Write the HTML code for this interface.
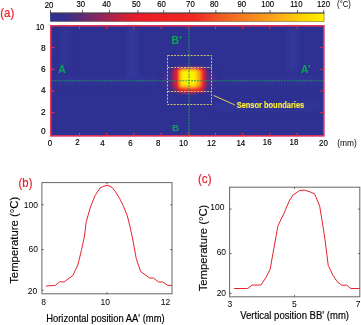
<!DOCTYPE html>
<html>
<head>
<meta charset="utf-8">
<title>Figure</title>
<style>
html,body{margin:0;padding:0;background:#fff;}
body{width:361px;height:325px;overflow:hidden;}
svg{display:block;}
text{font-family:"Liberation Sans",sans-serif;}
</style>
</head>
<body>
<svg width="361" height="325" viewBox="0 0 361 325">
<defs>
<linearGradient id="cb" x1="0" x2="1" y1="0" y2="0">
<stop offset="0" stop-color="#2e3192"/>
<stop offset="0.05" stop-color="#33308f"/>
<stop offset="0.31" stop-color="#e51d2a"/>
<stop offset="0.36" stop-color="#ed1c24"/>
<stop offset="0.53" stop-color="#ee2a24"/>
<stop offset="0.62" stop-color="#f15a22"/>
<stop offset="0.72" stop-color="#f58220"/>
<stop offset="0.83" stop-color="#fbaa19"/>
<stop offset="0.92" stop-color="#ffd400"/>
<stop offset="1" stop-color="#fff200"/>
</linearGradient>
<filter id="bl" x="-30%" y="-30%" width="160%" height="160%"><feGaussianBlur stdDeviation="1.6"/></filter>
<filter id="bl3" x="-10%" y="-10%" width="120%" height="120%"><feGaussianBlur stdDeviation="0.85"/></filter>
<filter id="bl4" x="-20%" y="-20%" width="140%" height="140%"><feGaussianBlur stdDeviation="2.5"/></filter>
<filter id="bl5" x="-30%" y="-30%" width="160%" height="160%"><feGaussianBlur stdDeviation="3"/></filter>
<filter id="bl2" x="-30%" y="-30%" width="160%" height="160%"><feGaussianBlur stdDeviation="1.2"/></filter>
</defs>

<text x="0.3" y="16.9" fill="#e8212b" stroke="#e8212b" stroke-width="0.2" font-size="12.4" textLength="14" lengthAdjust="spacingAndGlyphs">(a)</text>
<text x="18.6" y="186.7" fill="#e8212b" stroke="#e8212b" stroke-width="0.2" font-size="12.4" textLength="13.8" lengthAdjust="spacingAndGlyphs">(b)</text>
<text x="198" y="182.8" fill="#e8212b" stroke="#e8212b" stroke-width="0.2" font-size="12.4" textLength="13.5" lengthAdjust="spacingAndGlyphs">(c)</text>
<rect x="50.1" y="13.2" width="274.1" height="8.3" fill="url(#cb)"/>
<path d="M49.9 13H324.5" stroke="#1a1a1a" stroke-width="1" fill="none"/>
<path d="M324.1 13V21.5H50.1" stroke="#3a3a1a" stroke-width="0.6" stroke-opacity="0.7" fill="none"/>
<path d="M50.5 10V13M82.5 10V13M109.4 10V13M137.9 10V13M163.7 10V13M189.5 10V13M215.9 10V13M242.7 10V13M270.1 10V13M297.6 10V13M323.7 10V13" stroke="#333" stroke-width="0.8" fill="none"/>
<text transform="translate(49 7.9) scale(0.9 1)" font-size="8.6" text-anchor="middle" fill="#000" stroke="#000" stroke-width="0.15">20</text>
<text transform="translate(80.8 6.7) scale(0.9 1)" font-size="8.6" text-anchor="middle" fill="#000" stroke="#000" stroke-width="0.15">30</text>
<text transform="translate(106.5 7.0) scale(0.9 1)" font-size="8.6" text-anchor="middle" fill="#000" stroke="#000" stroke-width="0.15">40</text>
<text transform="translate(136.3 7.0) scale(0.9 1)" font-size="8.6" text-anchor="middle" fill="#000" stroke="#000" stroke-width="0.15">50</text>
<text transform="translate(161.6 7.0) scale(0.9 1)" font-size="8.6" text-anchor="middle" fill="#000" stroke="#000" stroke-width="0.15">60</text>
<text transform="translate(190.4 7.0) scale(0.9 1)" font-size="8.6" text-anchor="middle" fill="#000" stroke="#000" stroke-width="0.15">70</text>
<text transform="translate(214.2 7.0) scale(0.9 1)" font-size="8.6" text-anchor="middle" fill="#000" stroke="#000" stroke-width="0.15">80</text>
<text transform="translate(241.8 7.0) scale(0.9 1)" font-size="8.6" text-anchor="middle" fill="#000" stroke="#000" stroke-width="0.15">90</text>
<text transform="translate(267.7 7.0) scale(0.9 1)" font-size="8.6" text-anchor="middle" fill="#000" stroke="#000" stroke-width="0.15">100</text>
<text transform="translate(296.3 7.0) scale(0.9 1)" font-size="8.6" text-anchor="middle" fill="#000" stroke="#000" stroke-width="0.15">110</text>
<text transform="translate(323.5 7.0) scale(0.9 1)" font-size="8.6" text-anchor="middle" fill="#000" stroke="#000" stroke-width="0.15">120</text>
<text transform="translate(344 7.2) scale(0.92 1)" font-size="8.4" text-anchor="middle" fill="#000">(°C)</text>
<rect x="50.5" y="25.5" width="273.7" height="110.7" fill="#2e3192"/>
<g filter="url(#bl4)" opacity="0.55"><rect x="128" y="27" width="9" height="50" fill="#3b41a6"/><rect x="62" y="27" width="6" height="40" fill="#363c9f"/><rect x="288" y="27" width="10" height="45" fill="#363c9f"/><rect x="215" y="104" width="105" height="6" fill="#363c9f"/><rect x="56" y="78" width="100" height="5" fill="#353a9c"/><rect x="222" y="78" width="98" height="5" fill="#353a9c"/></g>
<ellipse cx="189" cy="79.5" rx="26" ry="12" fill="#5b2d8c" opacity="0.8" filter="url(#bl5)"/>
<g filter="url(#bl3)" shape-rendering="crispEdges"><rect x="167.3" y="69.9" width="2.6999999999999997" height="2.6999999999999997" fill="#34308f"/><rect x="167.3" y="72.2" width="2.6999999999999997" height="2.6999999999999997" fill="#35308e"/><rect x="167.3" y="74.5" width="2.6999999999999997" height="2.6999999999999997" fill="#35308e"/><rect x="167.3" y="76.8" width="2.6999999999999997" height="2.6999999999999997" fill="#35308e"/><rect x="167.3" y="79.1" width="2.6999999999999997" height="2.6999999999999997" fill="#35308e"/><rect x="167.3" y="81.4" width="2.6999999999999997" height="2.6999999999999997" fill="#35308e"/><rect x="167.3" y="83.7" width="2.6999999999999997" height="2.6999999999999997" fill="#34308f"/><rect x="169.6" y="67.6" width="2.6999999999999997" height="2.6999999999999997" fill="#412e87"/><rect x="169.6" y="69.9" width="2.6999999999999997" height="2.6999999999999997" fill="#532d7d"/><rect x="169.6" y="72.2" width="2.6999999999999997" height="2.6999999999999997" fill="#552c7b"/><rect x="169.6" y="74.5" width="2.6999999999999997" height="2.6999999999999997" fill="#552c7b"/><rect x="169.6" y="76.8" width="2.6999999999999997" height="2.6999999999999997" fill="#552c7b"/><rect x="169.6" y="79.1" width="2.6999999999999997" height="2.6999999999999997" fill="#552c7b"/><rect x="169.6" y="81.4" width="2.6999999999999997" height="2.6999999999999997" fill="#552c7b"/><rect x="169.6" y="83.7" width="2.6999999999999997" height="2.6999999999999997" fill="#532d7d"/><rect x="169.6" y="86.0" width="2.6999999999999997" height="2.6999999999999997" fill="#4a2e82"/><rect x="169.6" y="88.3" width="2.6999999999999997" height="2.6999999999999997" fill="#3b2f8a"/><rect x="171.9" y="67.6" width="2.6999999999999997" height="2.6999999999999997" fill="#612b75"/><rect x="171.9" y="69.9" width="2.6999999999999997" height="2.6999999999999997" fill="#812863"/><rect x="171.9" y="72.2" width="2.6999999999999997" height="2.6999999999999997" fill="#862760"/><rect x="171.9" y="74.5" width="2.6999999999999997" height="2.6999999999999997" fill="#862760"/><rect x="171.9" y="76.8" width="2.6999999999999997" height="2.6999999999999997" fill="#862760"/><rect x="171.9" y="79.1" width="2.6999999999999997" height="2.6999999999999997" fill="#862760"/><rect x="171.9" y="81.4" width="2.6999999999999997" height="2.6999999999999997" fill="#862760"/><rect x="171.9" y="83.7" width="2.6999999999999997" height="2.6999999999999997" fill="#812862"/><rect x="171.9" y="86.0" width="2.6999999999999997" height="2.6999999999999997" fill="#71296c"/><rect x="171.9" y="88.3" width="2.6999999999999997" height="2.6999999999999997" fill="#552c7c"/><rect x="171.9" y="90.6" width="2.6999999999999997" height="2.6999999999999997" fill="#35308e"/><rect x="174.2" y="67.6" width="2.6999999999999997" height="2.6999999999999997" fill="#962557"/><rect x="174.2" y="69.9" width="2.6999999999999997" height="2.6999999999999997" fill="#d01f36"/><rect x="174.2" y="72.2" width="2.6999999999999997" height="2.6999999999999997" fill="#d91e31"/><rect x="174.2" y="74.5" width="2.6999999999999997" height="2.6999999999999997" fill="#d91e31"/><rect x="174.2" y="76.8" width="2.6999999999999997" height="2.6999999999999997" fill="#d91e31"/><rect x="174.2" y="79.1" width="2.6999999999999997" height="2.6999999999999997" fill="#d91e31"/><rect x="174.2" y="81.4" width="2.6999999999999997" height="2.6999999999999997" fill="#d91e31"/><rect x="174.2" y="83.7" width="2.6999999999999997" height="2.6999999999999997" fill="#d11f35"/><rect x="174.2" y="86.0" width="2.6999999999999997" height="2.6999999999999997" fill="#b42246"/><rect x="174.2" y="88.3" width="2.6999999999999997" height="2.6999999999999997" fill="#812863"/><rect x="174.2" y="90.6" width="2.6999999999999997" height="2.6999999999999997" fill="#482e83"/><rect x="176.5" y="67.6" width="2.6999999999999997" height="2.6999999999999997" fill="#e81d28"/><rect x="176.5" y="69.9" width="2.6999999999999997" height="2.6999999999999997" fill="#ee2524"/><rect x="176.5" y="72.2" width="2.6999999999999997" height="2.6999999999999997" fill="#ee2724"/><rect x="176.5" y="74.5" width="2.6999999999999997" height="2.6999999999999997" fill="#ee2724"/><rect x="176.5" y="76.8" width="2.6999999999999997" height="2.6999999999999997" fill="#ee2724"/><rect x="176.5" y="79.1" width="2.6999999999999997" height="2.6999999999999997" fill="#ee2724"/><rect x="176.5" y="81.4" width="2.6999999999999997" height="2.6999999999999997" fill="#ee2724"/><rect x="176.5" y="83.7" width="2.6999999999999997" height="2.6999999999999997" fill="#ee2624"/><rect x="176.5" y="86.0" width="2.6999999999999997" height="2.6999999999999997" fill="#ed1f24"/><rect x="176.5" y="88.3" width="2.6999999999999997" height="2.6999999999999997" fill="#cc2038"/><rect x="176.5" y="90.6" width="2.6999999999999997" height="2.6999999999999997" fill="#682a71"/><rect x="178.8" y="65.3" width="2.6999999999999997" height="2.6999999999999997" fill="#38308c"/><rect x="178.8" y="67.6" width="2.6999999999999997" height="2.6999999999999997" fill="#ef3424"/><rect x="178.8" y="69.9" width="2.6999999999999997" height="2.6999999999999997" fill="#f9a01b"/><rect x="178.8" y="72.2" width="2.6999999999999997" height="2.6999999999999997" fill="#fbaf16"/><rect x="178.8" y="74.5" width="2.6999999999999997" height="2.6999999999999997" fill="#fbaf16"/><rect x="178.8" y="76.8" width="2.6999999999999997" height="2.6999999999999997" fill="#fbaf16"/><rect x="178.8" y="79.1" width="2.6999999999999997" height="2.6999999999999997" fill="#fbaf16"/><rect x="178.8" y="81.4" width="2.6999999999999997" height="2.6999999999999997" fill="#fbaf16"/><rect x="178.8" y="83.7" width="2.6999999999999997" height="2.6999999999999997" fill="#faa11b"/><rect x="178.8" y="86.0" width="2.6999999999999997" height="2.6999999999999997" fill="#f37121"/><rect x="178.8" y="88.3" width="2.6999999999999997" height="2.6999999999999997" fill="#ee2424"/><rect x="178.8" y="90.6" width="2.6999999999999997" height="2.6999999999999997" fill="#9e2552"/><rect x="181.1" y="65.3" width="2.6999999999999997" height="2.6999999999999997" fill="#3b2f8a"/><rect x="181.1" y="67.6" width="2.6999999999999997" height="2.6999999999999997" fill="#f15c22"/><rect x="181.1" y="69.9" width="2.6999999999999997" height="2.6999999999999997" fill="#ffd102"/><rect x="181.1" y="72.2" width="2.6999999999999997" height="2.6999999999999997" fill="#ffe200"/><rect x="181.1" y="74.5" width="2.6999999999999997" height="2.6999999999999997" fill="#ffe200"/><rect x="181.1" y="76.8" width="2.6999999999999997" height="2.6999999999999997" fill="#ffe200"/><rect x="181.1" y="79.1" width="2.6999999999999997" height="2.6999999999999997" fill="#ffe200"/><rect x="181.1" y="81.4" width="2.6999999999999997" height="2.6999999999999997" fill="#ffe200"/><rect x="181.1" y="83.7" width="2.6999999999999997" height="2.6999999999999997" fill="#ffd301"/><rect x="181.1" y="86.0" width="2.6999999999999997" height="2.6999999999999997" fill="#f8951d"/><rect x="181.1" y="88.3" width="2.6999999999999997" height="2.6999999999999997" fill="#ee2924"/><rect x="181.1" y="90.6" width="2.6999999999999997" height="2.6999999999999997" fill="#b02348"/><rect x="181.1" y="92.9" width="2.6999999999999997" height="2.6999999999999997" fill="#33308f"/><rect x="183.4" y="65.3" width="2.6999999999999997" height="2.6999999999999997" fill="#3d2f89"/><rect x="183.4" y="67.6" width="2.6999999999999997" height="2.6999999999999997" fill="#f26721"/><rect x="183.4" y="69.9" width="2.6999999999999997" height="2.6999999999999997" fill="#ffe100"/><rect x="183.4" y="72.2" width="2.6999999999999997" height="2.6999999999999997" fill="#fff200"/><rect x="183.4" y="74.5" width="2.6999999999999997" height="2.6999999999999997" fill="#fff200"/><rect x="183.4" y="76.8" width="2.6999999999999997" height="2.6999999999999997" fill="#fff200"/><rect x="183.4" y="79.1" width="2.6999999999999997" height="2.6999999999999997" fill="#fff200"/><rect x="183.4" y="81.4" width="2.6999999999999997" height="2.6999999999999997" fill="#fff200"/><rect x="183.4" y="83.7" width="2.6999999999999997" height="2.6999999999999997" fill="#ffe200"/><rect x="183.4" y="86.0" width="2.6999999999999997" height="2.6999999999999997" fill="#faa11b"/><rect x="183.4" y="88.3" width="2.6999999999999997" height="2.6999999999999997" fill="#ee3124"/><rect x="183.4" y="90.6" width="2.6999999999999997" height="2.6999999999999997" fill="#b72244"/><rect x="183.4" y="92.9" width="2.6999999999999997" height="2.6999999999999997" fill="#33308f"/><rect x="185.7" y="65.3" width="2.6999999999999997" height="2.6999999999999997" fill="#3d2f89"/><rect x="185.7" y="67.6" width="2.6999999999999997" height="2.6999999999999997" fill="#f26721"/><rect x="185.7" y="69.9" width="2.6999999999999997" height="2.6999999999999997" fill="#ffe100"/><rect x="185.7" y="72.2" width="2.6999999999999997" height="2.6999999999999997" fill="#fff200"/><rect x="185.7" y="74.5" width="2.6999999999999997" height="2.6999999999999997" fill="#fff200"/><rect x="185.7" y="76.8" width="2.6999999999999997" height="2.6999999999999997" fill="#fff200"/><rect x="185.7" y="79.1" width="2.6999999999999997" height="2.6999999999999997" fill="#fff200"/><rect x="185.7" y="81.4" width="2.6999999999999997" height="2.6999999999999997" fill="#fff200"/><rect x="185.7" y="83.7" width="2.6999999999999997" height="2.6999999999999997" fill="#ffe200"/><rect x="185.7" y="86.0" width="2.6999999999999997" height="2.6999999999999997" fill="#faa11b"/><rect x="185.7" y="88.3" width="2.6999999999999997" height="2.6999999999999997" fill="#ee3124"/><rect x="185.7" y="90.6" width="2.6999999999999997" height="2.6999999999999997" fill="#b72244"/><rect x="185.7" y="92.9" width="2.6999999999999997" height="2.6999999999999997" fill="#33308f"/><rect x="188.0" y="65.3" width="2.6999999999999997" height="2.6999999999999997" fill="#3d2f89"/><rect x="188.0" y="67.6" width="2.6999999999999997" height="2.6999999999999997" fill="#f26721"/><rect x="188.0" y="69.9" width="2.6999999999999997" height="2.6999999999999997" fill="#ffe100"/><rect x="188.0" y="72.2" width="2.6999999999999997" height="2.6999999999999997" fill="#fff200"/><rect x="188.0" y="74.5" width="2.6999999999999997" height="2.6999999999999997" fill="#fff200"/><rect x="188.0" y="76.8" width="2.6999999999999997" height="2.6999999999999997" fill="#fff200"/><rect x="188.0" y="79.1" width="2.6999999999999997" height="2.6999999999999997" fill="#fff200"/><rect x="188.0" y="81.4" width="2.6999999999999997" height="2.6999999999999997" fill="#fff200"/><rect x="188.0" y="83.7" width="2.6999999999999997" height="2.6999999999999997" fill="#ffe200"/><rect x="188.0" y="86.0" width="2.6999999999999997" height="2.6999999999999997" fill="#faa11b"/><rect x="188.0" y="88.3" width="2.6999999999999997" height="2.6999999999999997" fill="#ee3124"/><rect x="188.0" y="90.6" width="2.6999999999999997" height="2.6999999999999997" fill="#b72244"/><rect x="188.0" y="92.9" width="2.6999999999999997" height="2.6999999999999997" fill="#33308f"/><rect x="190.3" y="65.3" width="2.6999999999999997" height="2.6999999999999997" fill="#3d2f89"/><rect x="190.3" y="67.6" width="2.6999999999999997" height="2.6999999999999997" fill="#f26721"/><rect x="190.3" y="69.9" width="2.6999999999999997" height="2.6999999999999997" fill="#ffe100"/><rect x="190.3" y="72.2" width="2.6999999999999997" height="2.6999999999999997" fill="#fff200"/><rect x="190.3" y="74.5" width="2.6999999999999997" height="2.6999999999999997" fill="#fff200"/><rect x="190.3" y="76.8" width="2.6999999999999997" height="2.6999999999999997" fill="#fff200"/><rect x="190.3" y="79.1" width="2.6999999999999997" height="2.6999999999999997" fill="#fff200"/><rect x="190.3" y="81.4" width="2.6999999999999997" height="2.6999999999999997" fill="#fff200"/><rect x="190.3" y="83.7" width="2.6999999999999997" height="2.6999999999999997" fill="#ffe200"/><rect x="190.3" y="86.0" width="2.6999999999999997" height="2.6999999999999997" fill="#faa11b"/><rect x="190.3" y="88.3" width="2.6999999999999997" height="2.6999999999999997" fill="#ee3124"/><rect x="190.3" y="90.6" width="2.6999999999999997" height="2.6999999999999997" fill="#b72244"/><rect x="190.3" y="92.9" width="2.6999999999999997" height="2.6999999999999997" fill="#33308f"/><rect x="192.6" y="65.3" width="2.6999999999999997" height="2.6999999999999997" fill="#3d2f89"/><rect x="192.6" y="67.6" width="2.6999999999999997" height="2.6999999999999997" fill="#f26721"/><rect x="192.6" y="69.9" width="2.6999999999999997" height="2.6999999999999997" fill="#ffe100"/><rect x="192.6" y="72.2" width="2.6999999999999997" height="2.6999999999999997" fill="#fff200"/><rect x="192.6" y="74.5" width="2.6999999999999997" height="2.6999999999999997" fill="#fff200"/><rect x="192.6" y="76.8" width="2.6999999999999997" height="2.6999999999999997" fill="#fff200"/><rect x="192.6" y="79.1" width="2.6999999999999997" height="2.6999999999999997" fill="#fff200"/><rect x="192.6" y="81.4" width="2.6999999999999997" height="2.6999999999999997" fill="#fff200"/><rect x="192.6" y="83.7" width="2.6999999999999997" height="2.6999999999999997" fill="#ffe200"/><rect x="192.6" y="86.0" width="2.6999999999999997" height="2.6999999999999997" fill="#faa11b"/><rect x="192.6" y="88.3" width="2.6999999999999997" height="2.6999999999999997" fill="#ee3124"/><rect x="192.6" y="90.6" width="2.6999999999999997" height="2.6999999999999997" fill="#b72244"/><rect x="192.6" y="92.9" width="2.6999999999999997" height="2.6999999999999997" fill="#33308f"/><rect x="194.9" y="65.3" width="2.6999999999999997" height="2.6999999999999997" fill="#3b2f8a"/><rect x="194.9" y="67.6" width="2.6999999999999997" height="2.6999999999999997" fill="#f15922"/><rect x="194.9" y="69.9" width="2.6999999999999997" height="2.6999999999999997" fill="#fecc05"/><rect x="194.9" y="72.2" width="2.6999999999999997" height="2.6999999999999997" fill="#ffde00"/><rect x="194.9" y="74.5" width="2.6999999999999997" height="2.6999999999999997" fill="#ffde00"/><rect x="194.9" y="76.8" width="2.6999999999999997" height="2.6999999999999997" fill="#ffde00"/><rect x="194.9" y="79.1" width="2.6999999999999997" height="2.6999999999999997" fill="#ffde00"/><rect x="194.9" y="81.4" width="2.6999999999999997" height="2.6999999999999997" fill="#ffde00"/><rect x="194.9" y="83.7" width="2.6999999999999997" height="2.6999999999999997" fill="#fecd04"/><rect x="194.9" y="86.0" width="2.6999999999999997" height="2.6999999999999997" fill="#f7911d"/><rect x="194.9" y="88.3" width="2.6999999999999997" height="2.6999999999999997" fill="#ee2924"/><rect x="194.9" y="90.6" width="2.6999999999999997" height="2.6999999999999997" fill="#ae2349"/><rect x="197.2" y="65.3" width="2.6999999999999997" height="2.6999999999999997" fill="#37308c"/><rect x="197.2" y="67.6" width="2.6999999999999997" height="2.6999999999999997" fill="#ef3224"/><rect x="197.2" y="69.9" width="2.6999999999999997" height="2.6999999999999997" fill="#f99e1b"/><rect x="197.2" y="72.2" width="2.6999999999999997" height="2.6999999999999997" fill="#fbac18"/><rect x="197.2" y="74.5" width="2.6999999999999997" height="2.6999999999999997" fill="#fbac18"/><rect x="197.2" y="76.8" width="2.6999999999999997" height="2.6999999999999997" fill="#fbac18"/><rect x="197.2" y="79.1" width="2.6999999999999997" height="2.6999999999999997" fill="#fbac18"/><rect x="197.2" y="81.4" width="2.6999999999999997" height="2.6999999999999997" fill="#fbac18"/><rect x="197.2" y="83.7" width="2.6999999999999997" height="2.6999999999999997" fill="#f99f1b"/><rect x="197.2" y="86.0" width="2.6999999999999997" height="2.6999999999999997" fill="#f36f21"/><rect x="197.2" y="88.3" width="2.6999999999999997" height="2.6999999999999997" fill="#ee2424"/><rect x="197.2" y="90.6" width="2.6999999999999997" height="2.6999999999999997" fill="#9d2553"/><rect x="199.5" y="65.3" width="2.6999999999999997" height="2.6999999999999997" fill="#33308f"/><rect x="199.5" y="67.6" width="2.6999999999999997" height="2.6999999999999997" fill="#ed2124"/><rect x="199.5" y="69.9" width="2.6999999999999997" height="2.6999999999999997" fill="#f15a22"/><rect x="199.5" y="72.2" width="2.6999999999999997" height="2.6999999999999997" fill="#f26621"/><rect x="199.5" y="74.5" width="2.6999999999999997" height="2.6999999999999997" fill="#f26621"/><rect x="199.5" y="76.8" width="2.6999999999999997" height="2.6999999999999997" fill="#f26621"/><rect x="199.5" y="79.1" width="2.6999999999999997" height="2.6999999999999997" fill="#f26621"/><rect x="199.5" y="81.4" width="2.6999999999999997" height="2.6999999999999997" fill="#f26621"/><rect x="199.5" y="83.7" width="2.6999999999999997" height="2.6999999999999997" fill="#f15b22"/><rect x="199.5" y="86.0" width="2.6999999999999997" height="2.6999999999999997" fill="#ee2a24"/><rect x="199.5" y="88.3" width="2.6999999999999997" height="2.6999999999999997" fill="#ec1c25"/><rect x="199.5" y="90.6" width="2.6999999999999997" height="2.6999999999999997" fill="#802863"/><rect x="201.8" y="67.6" width="2.6999999999999997" height="2.6999999999999997" fill="#d41f34"/><rect x="201.8" y="69.9" width="2.6999999999999997" height="2.6999999999999997" fill="#ed2024"/><rect x="201.8" y="72.2" width="2.6999999999999997" height="2.6999999999999997" fill="#ed2224"/><rect x="201.8" y="74.5" width="2.6999999999999997" height="2.6999999999999997" fill="#ed2224"/><rect x="201.8" y="76.8" width="2.6999999999999997" height="2.6999999999999997" fill="#ed2224"/><rect x="201.8" y="79.1" width="2.6999999999999997" height="2.6999999999999997" fill="#ed2224"/><rect x="201.8" y="81.4" width="2.6999999999999997" height="2.6999999999999997" fill="#ed2224"/><rect x="201.8" y="83.7" width="2.6999999999999997" height="2.6999999999999997" fill="#ed2024"/><rect x="201.8" y="86.0" width="2.6999999999999997" height="2.6999999999999997" fill="#eb1c25"/><rect x="201.8" y="88.3" width="2.6999999999999997" height="2.6999999999999997" fill="#b42246"/><rect x="201.8" y="90.6" width="2.6999999999999997" height="2.6999999999999997" fill="#5e2b77"/><rect x="204.1" y="67.6" width="2.6999999999999997" height="2.6999999999999997" fill="#7c2865"/><rect x="204.1" y="69.9" width="2.6999999999999997" height="2.6999999999999997" fill="#aa234c"/><rect x="204.1" y="72.2" width="2.6999999999999997" height="2.6999999999999997" fill="#b02348"/><rect x="204.1" y="74.5" width="2.6999999999999997" height="2.6999999999999997" fill="#b02348"/><rect x="204.1" y="76.8" width="2.6999999999999997" height="2.6999999999999997" fill="#b02348"/><rect x="204.1" y="79.1" width="2.6999999999999997" height="2.6999999999999997" fill="#b02348"/><rect x="204.1" y="81.4" width="2.6999999999999997" height="2.6999999999999997" fill="#b02348"/><rect x="204.1" y="83.7" width="2.6999999999999997" height="2.6999999999999997" fill="#aa234b"/><rect x="204.1" y="86.0" width="2.6999999999999997" height="2.6999999999999997" fill="#932658"/><rect x="204.1" y="88.3" width="2.6999999999999997" height="2.6999999999999997" fill="#6c2a6f"/><rect x="204.1" y="90.6" width="2.6999999999999997" height="2.6999999999999997" fill="#3f2f88"/><rect x="206.4" y="67.6" width="2.6999999999999997" height="2.6999999999999997" fill="#442e85"/><rect x="206.4" y="69.9" width="2.6999999999999997" height="2.6999999999999997" fill="#572c7a"/><rect x="206.4" y="72.2" width="2.6999999999999997" height="2.6999999999999997" fill="#5a2c79"/><rect x="206.4" y="74.5" width="2.6999999999999997" height="2.6999999999999997" fill="#5a2c79"/><rect x="206.4" y="76.8" width="2.6999999999999997" height="2.6999999999999997" fill="#5a2c79"/><rect x="206.4" y="79.1" width="2.6999999999999997" height="2.6999999999999997" fill="#5a2c79"/><rect x="206.4" y="81.4" width="2.6999999999999997" height="2.6999999999999997" fill="#5a2c79"/><rect x="206.4" y="83.7" width="2.6999999999999997" height="2.6999999999999997" fill="#572c7a"/><rect x="206.4" y="86.0" width="2.6999999999999997" height="2.6999999999999997" fill="#4e2d80"/><rect x="206.4" y="88.3" width="2.6999999999999997" height="2.6999999999999997" fill="#3e2f89"/></g>
<rect x="50.75" y="25.75" width="273.1" height="110.1" fill="none" stroke="#ea3352" stroke-width="1.5"/>
<path d="M50.5 47.6h4M324.2 47.6h-4M50.5 69.3h4M324.2 69.3h-4M50.5 91.0h4M324.2 91.0h-4M50.5 112.6h4M324.2 112.6h-4" stroke="#ee2a3e" stroke-width="1" fill="none"/>
<path d="M79.5 25.5v3.6M79.5 136.2v-3.6M106.7 25.5v3.6M106.7 136.2v-3.6M133.9 25.5v3.6M133.9 136.2v-3.6M161.1 25.5v3.6M161.1 136.2v-3.6M188.3 25.5v3.6M188.3 136.2v-3.6M215.5 25.5v3.6M215.5 136.2v-3.6M242.7 25.5v3.6M242.7 136.2v-3.6M269.9 25.5v3.6M269.9 136.2v-3.6M297.1 25.5v3.6M297.1 136.2v-3.6" stroke="#ee2a3e" stroke-width="1" fill="none"/>
<path d="M52 80.7H323.5" stroke="#1f9a5a" stroke-width="1.1" stroke-dasharray="1.8 1.1" stroke-opacity="0.95" fill="none"/>
<path d="M189 27V135" stroke="#1f9a5a" stroke-width="1.1" stroke-dasharray="1.8 1.1" stroke-opacity="0.95" fill="none"/>
<rect x="167.5" y="55.5" width="44" height="49" fill="none" stroke="#f5e663" stroke-width="0.9" stroke-opacity="0.9" stroke-dasharray="2 1.3"/>
<path d="M167.5 67.5H211.5M167.5 91.5H211.5" stroke="#f5e663" stroke-width="0.9" stroke-opacity="0.9" stroke-dasharray="2 1.3" fill="none"/>
<path d="M213.7 95.5L235 105" stroke="#f5e04a" stroke-width="0.9" fill="none"/>
<text x="236.7" y="107.8" font-size="9.8" font-weight="bold" fill="#fdee35" stroke="#fdee35" stroke-width="0.15" textLength="67.5" lengthAdjust="spacingAndGlyphs">Sensor boundaries</text>
<text x="58.2" y="72.8" font-size="10.3" text-anchor="start" fill="#0aa552" font-weight="bold">A</text>
<text x="171.3" y="43.6" font-size="10.8" text-anchor="start" fill="#0aa552" font-weight="bold">B’</text>
<text x="172" y="131.1" font-size="9.9" text-anchor="start" fill="#0aa552" font-weight="bold">B</text>
<text x="301" y="72.5" font-size="10.3" text-anchor="start" fill="#0aa552" font-weight="bold">A’</text>
<text transform="translate(44.3 30) scale(0.88 1)" font-size="8.6" text-anchor="end" fill="#000" stroke="#000" stroke-width="0.15">10</text>
<text transform="translate(45.6 50.6) scale(0.97 1)" font-size="8.6" text-anchor="end" fill="#000" stroke="#000" stroke-width="0.15">8</text>
<text transform="translate(45.6 72) scale(0.97 1)" font-size="8.6" text-anchor="end" fill="#000" stroke="#000" stroke-width="0.15">6</text>
<text transform="translate(45.6 92.9) scale(0.97 1)" font-size="8.6" text-anchor="end" fill="#000" stroke="#000" stroke-width="0.15">4</text>
<text transform="translate(45.6 114.6) scale(0.97 1)" font-size="8.6" text-anchor="end" fill="#000" stroke="#000" stroke-width="0.15">2</text>
<text transform="translate(45.6 134) scale(0.97 1)" font-size="8.6" text-anchor="end" fill="#000" stroke="#000" stroke-width="0.15">0</text>
<text transform="translate(50 145.9) scale(0.92 1)" font-size="8.6" text-anchor="middle" fill="#000" stroke="#000" stroke-width="0.15">0</text>
<text transform="translate(77.5 144.6) scale(0.92 1)" font-size="8.6" text-anchor="middle" fill="#000" stroke="#000" stroke-width="0.15">2</text>
<text transform="translate(102.5 145.9) scale(0.92 1)" font-size="8.6" text-anchor="middle" fill="#000" stroke="#000" stroke-width="0.15">4</text>
<text transform="translate(130.5 145.9) scale(0.92 1)" font-size="8.6" text-anchor="middle" fill="#000" stroke="#000" stroke-width="0.15">6</text>
<text transform="translate(158.2 145.9) scale(0.92 1)" font-size="8.6" text-anchor="middle" fill="#000" stroke="#000" stroke-width="0.15">8</text>
<text transform="translate(183.5 145.9) scale(0.92 1)" font-size="8.6" text-anchor="middle" fill="#000" stroke="#000" stroke-width="0.15">10</text>
<text transform="translate(211.5 145.9) scale(0.92 1)" font-size="8.6" text-anchor="middle" fill="#000" stroke="#000" stroke-width="0.15">12</text>
<text transform="translate(240.8 145.9) scale(0.92 1)" font-size="8.6" text-anchor="middle" fill="#000" stroke="#000" stroke-width="0.15">14</text>
<text transform="translate(267.2 144.6) scale(0.92 1)" font-size="8.6" text-anchor="middle" fill="#000" stroke="#000" stroke-width="0.15">16</text>
<text transform="translate(293.9 145.2) scale(0.92 1)" font-size="8.6" text-anchor="middle" fill="#000" stroke="#000" stroke-width="0.15">18</text>
<text transform="translate(323.5 145.5) scale(0.92 1)" font-size="8.6" text-anchor="middle" fill="#000" stroke="#000" stroke-width="0.15">20</text>
<text x="347" y="145.6" font-size="8.4" text-anchor="middle" fill="#000">(mm)</text>
<rect x="41.9" y="182.6" width="130.1" height="111.2" fill="none" stroke="#666" stroke-width="1"/>
<path d="M41.9 204.7h1.6M41.9 249.6h1.6M41.9 290.3h1.6M172 204.7h-1.6M172 249.6h-1.6M106.9 182.6v1.6M106.9 293.8v-1.6" stroke="#444" stroke-width="0.9" fill="none"/>
<polyline fill="none" stroke="#e8212b" stroke-width="1" stroke-linejoin="round" points="46.1,286 55.5,285.3 59.7,281.8 64.2,281.8 72.9,275.4 77.8,265.1 81.6,249.6 84.5,236 86.1,222.5 90.4,207 95.2,195.4 100,188 103.9,186.1 107.9,185.3 111.8,187.2 115.6,191.9 119.5,198.3 123.4,206.1 127.3,215.8 130.2,227.4 132.7,239 136.2,258.3 140.6,271.5 149.8,278.1 153.6,278.1 158.5,282 162.7,282 167.8,285.4 172,285.4"/>
<text transform="translate(38 207.7) scale(1 1.1)" font-size="8.5" text-anchor="end" fill="#000">100</text>
<text transform="translate(38 252.4) scale(1 1.1)" font-size="8.5" text-anchor="end" fill="#000">60</text>
<text transform="translate(37.3 294.0) scale(1 1.1)" font-size="8.5" text-anchor="end" fill="#000">20</text>
<text x="43.5" y="304.7" font-size="8.5" text-anchor="middle" fill="#000">8</text>
<text x="105.2" y="304.7" font-size="8.5" text-anchor="middle" fill="#000">10</text>
<text x="165.6" y="304.7" font-size="8.5" text-anchor="middle" fill="#000">12</text>
<text transform="translate(46.2 321.9) scale(1 1.15)" font-size="9.45" fill="#000" stroke="#000" stroke-width="0.15" textLength="118.5" lengthAdjust="spacingAndGlyphs">Horizontal position AA' (mm)</text>
<text transform="translate(18.0 283.8) rotate(-90)" font-size="10" fill="#000" stroke="#000" stroke-width="0.12" textLength="87" lengthAdjust="spacingAndGlyphs">Temperature (°C)</text>
<rect x="229.6" y="187.2" width="130.2" height="109.6" fill="none" stroke="#666" stroke-width="1"/>
<path d="M229.9 209.1h1.6M229.9 253.6h1.6M229.9 293.3h1.6M359.8 209.1h-1.6M359.8 253.6h-1.6M294.5 187.2v1.6M294.5 296.8v-1.6" stroke="#444" stroke-width="0.9" fill="none"/>
<polyline fill="none" stroke="#e8212b" stroke-width="1" stroke-linejoin="round" points="234.1,288.5 247.7,288.5 252.2,285 260.9,285 265.8,277.8 270.2,269.1 272.9,253.6 275.4,240 278,225.6 284.2,213 289,201.3 292.9,195.1 296,193 299.7,190.5 304.6,190.1 310.4,192 314.7,194 319.7,206.2 323,226.5 325.2,241 328.2,265.2 332.7,274.9 337.2,281.7 341.8,285.2 346.8,285.2 350.7,288.5 359.8,288.5"/>
<text transform="translate(224.4 210.4) scale(1 1.1)" font-size="8.5" text-anchor="end" fill="#000">100</text>
<text transform="translate(226.1 255.1) scale(1 1.1)" font-size="8.5" text-anchor="end" fill="#000">60</text>
<text transform="translate(226.1 296.2) scale(1 1.1)" font-size="8.5" text-anchor="end" fill="#000">20</text>
<text x="229.8" y="306.7" font-size="8.5" text-anchor="middle" fill="#000">3</text>
<text x="294.3" y="306.7" font-size="8.5" text-anchor="middle" fill="#000">5</text>
<text x="358" y="306.7" font-size="8.5" text-anchor="middle" fill="#000">7</text>
<text transform="translate(240.2 319.4) scale(1 1.1)" font-size="9.55" fill="#000" stroke="#000" stroke-width="0.15" textLength="108.8" lengthAdjust="spacingAndGlyphs">Vertical position BB' (mm)</text>
<text transform="translate(206.5 291.3) rotate(-90)" font-size="10" fill="#000" stroke="#000" stroke-width="0.12" textLength="86.6" lengthAdjust="spacingAndGlyphs">Temperature (°C)</text>
</svg>
</body>
</html>
